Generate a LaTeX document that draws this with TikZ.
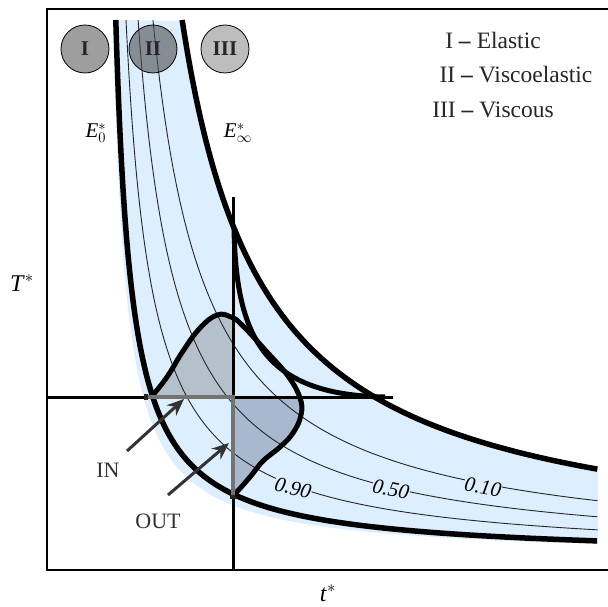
\documentclass[tikz,border=0pt]{standalone}
\usepackage{fix-cm}
\usepackage{fontspec}
\setmainfont{Liberation Serif}
\usetikzlibrary{arrows.meta}
\definecolor{bandblue}{RGB}{221,238,255}
\definecolor{shadeup}{RGB}{180,192,204}
\definecolor{shadelow}{RGB}{168,184,206}
\definecolor{darkarrow}{RGB}{51,51,51}
\newcommand{\bellcurve}{plot[smooth, tension=0.7] coordinates {(152,396) (167,377) (183,351) (200,328) (217,315) (231,317) (242,325) (267,352) (288,376) (300,398) (301,415) (293,433) (280,447) (263,461) (250,477) (235,494)}}

\begin{document}
\begin{tikzpicture}[
    x=1pt, y=-1pt,
    boldcurve/.style = {line width=5.5pt},
    levelcurve/.style = {line width=0.9pt, black!85},
    axisline/.style = {line width=3pt},
    regime/.style = {circle, draw, line width=0.8pt, minimum size=48pt, inner sep=0pt, font=\fontsize{21}{24}\selectfont\bfseries, text=black!85},
    legend/.style = {font=\fontsize{23.5}{26}\selectfont, text=black!85},
    levellabel/.style = {fill=bandblue, inner sep=0.5pt, font=\fontsize{21}{22}\selectfont\itshape},
    curvelabel/.style = {font=\fontsize{21}{24}\selectfont},
    axislabel/.style = {font=\fontsize{24}{26}\selectfont},
    tag/.style = {font=\fontsize{22}{24}\selectfont, text=black!80},
    pointer/.style = {line width=3pt, darkarrow, -{Stealth[length=17pt,width=14pt]}},
    ]
    \useasboundingbox (0,0) rectangle (608,607);

    % band between E0 and Einf
    \fill[bandblue] plot[domain=-1.8610:1.7838, samples=150, variable=\t] ({100+83.666*exp(\t)},{558-83.666*exp(-\t)})
        -- plot[domain=-0.8624:0.9396, samples=150, variable=\t] ({100+210.24*exp(-\t)},{558-210.24*exp(\t)}) -- cycle;

    % shaded parts of the response curve
    \begin{scope}
        \clip (47,9) rectangle (233,397);
        \fill[shadeup] \bellcurve -- cycle;
    \end{scope}
    \begin{scope}
        \clip (233,397) rectangle (608,570);
        \fill[shadelow] \bellcurve -- cycle;
    \end{scope}

    % level curves
    \foreach \s/\ta/\tb in {118.32/-1.5144/1.4372, 143.18/-1.3238/1.2465, 168.82/-1.1590/1.0818}
        \draw[levelcurve] plot[domain=\ta:\tb, samples=150, variable=\t] ({100+\s*exp(\t)},{558-\s*exp(-\t)});

    \node[levellabel, rotate=-13] (lvl-90) at (293,488) {0.90};
    \node[levellabel, rotate=-11] (lvl-50) at (391,489) {0.50};
    \node[levellabel, rotate=-10] (lvl-10) at (483,487) {0.10};

    % regimes
    \node[regime, fill=black!38] (elastic) at (85,49) {I};
    \node[regime, fill=black!70, fill opacity=0.6, text opacity=1] (viscoelastic) at (153,49) {II};
    \node[regime, fill=black!26] (viscous) at (225,49) {III};

    % bounding curves
    \draw[boldcurve] plot[domain=-1.7640:1.6867, samples=150, variable=\t] ({100+92.195*exp(\t)},{558-92.195*exp(-\t)});
    \draw[boldcurve] plot[domain=-0.9396:0.8624, samples=150, variable=\t] ({100+210.24*exp(\t)},{558-210.24*exp(-\t)});

    % frame and step lines
    \draw[line width=2pt] (608,9) -- (47,9) -- (47,570) -- (608,570);
    \draw[axisline] (47,397) -- (393,397);
    \draw[axisline] (233,197) -- (233,570);

    \draw[line width=5pt] (234,228) .. controls (236,335) and (262,395) .. (385,397);
    \draw[line width=5pt] \bellcurve;

    \draw[line width=4.5pt, black!55, {Square[length=4pt,width=6pt,black!85]}-{Square[length=4pt,width=6pt,black!85]}] (144,397) -- (233,397) -- (233,499);

    % pointers
    \node[tag] (in-label) at (108,470) {IN};
    \node[tag] (out-label) at (158,521) {OUT};
    \coordinate (in-tail) at (127,451);
    \coordinate (in-head) at (184,399);
    \coordinate (out-tail) at (168,495);
    \coordinate (out-head) at (229,443);
    \draw[pointer] (in-tail) -- (in-head);
    \draw[pointer] (out-tail) -- (out-head);

    % labels
    \node[curvelabel] (e-zero) at (96,133) {\textit{E}$^{*}_{0}$};
    \node[curvelabel] (e-inf) at (238,133) {\textit{E}$^{*}_{\infty}$};
    \node[axislabel] (stress) at (22,283) {\textit{T}$^{*}$};
    \node[axislabel] (time) at (328,593) {\textit{t}$^{*}$};

    \node[legend] (leg-elastic) at (493,40) {I \textbf{--} Elastic};
    \node[legend] (leg-visco) at (516,75) {II \textbf{--} Viscoelastic};
    \node[legend] (leg-viscous) at (493,110) {III \textbf{--} Viscous};
\end{tikzpicture}
\end{document}
